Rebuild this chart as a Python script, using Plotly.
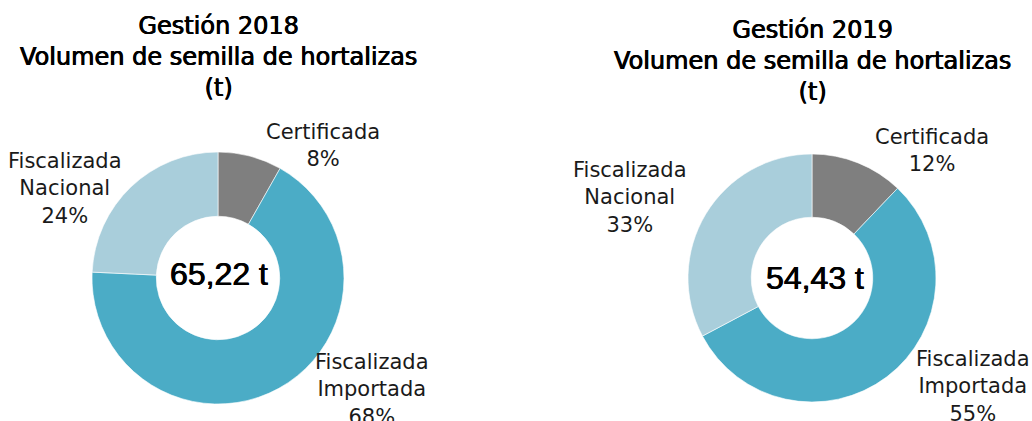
import plotly.graph_objects as go

W, H = 1032, 421

categories = ["Certificada", "Fiscalizada Importada", "Fiscalizada Nacional"]
label_lines = ["Certificada", "Fiscalizada<br>Importada", "Fiscalizada<br>Nacional"]
values_2018 = [5.35, 44.05, 15.82]
values_2019 = [6.60, 30.00, 17.83]
years = ["2018", "2019"]
colors = ["#7F7F7F", "#4BACC6", "#A9CEDB"]

def px_x(p):
    return p / W

def px_y(p):
    return 1 - p / H

fig = go.Figure()

# pie domains (pixels): center and radius
pies = [
    dict(vals=values_2018, cx=218, cy=278, r=126),
    dict(vals=values_2019, cx=812, cy=278, r=124),
]
for p in pies:
    fig.add_trace(go.Pie(
        labels=categories,
        values=p["vals"],
        hole=0.49,
        sort=False,
        direction="clockwise",
        rotation=0,
        textinfo="none",
        hoverinfo="label+percent",
        marker=dict(colors=colors, line=dict(color="white", width=0.6)),
        showlegend=False,
        domain=dict(
            x=[px_x(p["cx"] - p["r"]), px_x(p["cx"] + p["r"])],
            y=[px_y(p["cy"] + p["r"]), px_y(p["cy"] - p["r"])],
        ),
    ))

annotations = []
label_font = dict(family="DejaVu Sans", size=21, color="#1a1a1a")
title_font = dict(family="DejaVu Sans", size=24, color="black",
                  shadow="0.4px 0 0 #000, -0.4px 0 0 #000")
center_font = dict(family="Liberation Sans, Arial", size=32, color="black",
                   shadow="0.4px 0 0 #000, -0.4px 0 0 #000")

# label block positions (pixels) per chart, in category order
label_pos = [
    [(323, 145), (372, 389), (65, 189)],
    [(932, 150), (973, 386), (630, 197)],
]
title_pos = [(218, 57), (812, 61)]
center_pos = [(219, 274), (815, 278)]

for i, (p, year) in enumerate(zip(pies, years)):
    total = sum(p["vals"])
    for j, (lab, v) in enumerate(zip(label_lines, p["vals"])):
        pct = round(v / total * 100)
        x, y = label_pos[i][j]
        annotations.append(dict(
            x=px_x(x), y=px_y(y), xref="paper", yref="paper",
            xanchor="center", yanchor="middle", showarrow=False,
            text=f"{lab}<br>{pct}%", font=label_font, align="center",
        ))
    tx, ty = title_pos[i]
    annotations.append(dict(
        x=px_x(tx), y=px_y(ty), xref="paper", yref="paper",
        xanchor="center", yanchor="middle", showarrow=False,
        text=f"Gestión {year}<br>Volumen de semilla de hortalizas<br>(t)",
        font=title_font, align="center",
    ))
    cx, cy = center_pos[i]
    annotations.append(dict(
        x=px_x(cx), y=px_y(cy), xref="paper", yref="paper",
        xanchor="center", yanchor="middle", showarrow=False,
        text=f"{total:.2f}".replace(".", ",") + " t",
        font=center_font,
    ))

fig.update_layout(
    width=W, height=H,
    margin=dict(l=0, r=0, t=0, b=0),
    paper_bgcolor="white",
    plot_bgcolor="white",
    annotations=annotations,
)

fig.write_html(
    "out.html",
    config={"displayModeBar": False},
    post_script="document.body.style.margin='0';document.body.style.overflow='hidden';",
)
